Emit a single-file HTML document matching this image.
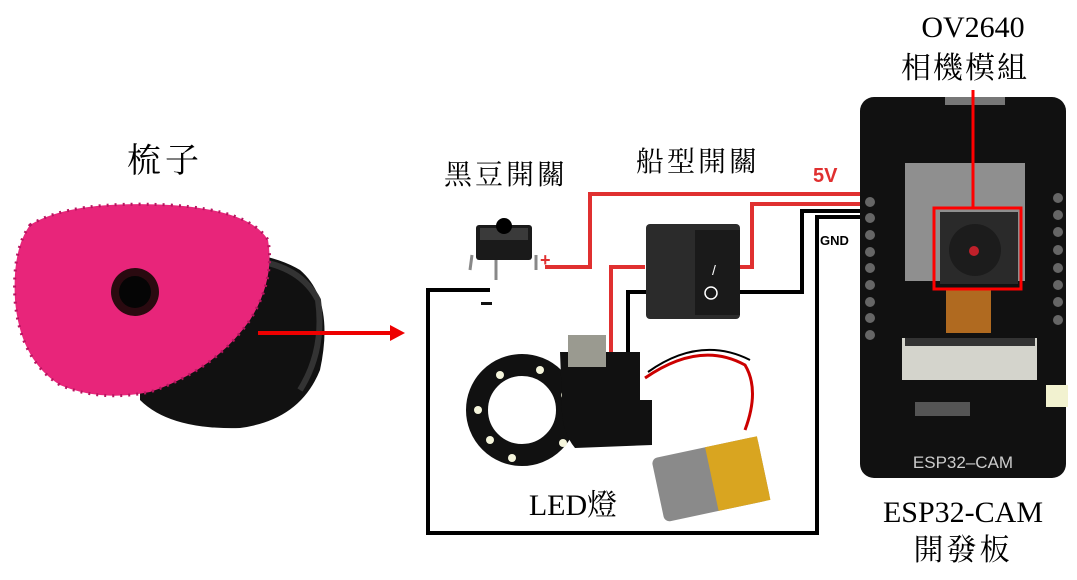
<!DOCTYPE html>
<html><head><meta charset="utf-8"><style>
html,body{margin:0;padding:0;background:#fff}
svg{display:block}
text{font-family:"Liberation Serif","Noto Serif CJK TC","Noto Serif CJK SC",serif;fill:#000}
</style></head><body>
<svg width="1077" height="580" viewBox="0 0 1077 580" xmlns="http://www.w3.org/2000/svg">
<!-- Titles -->
<text x="165" y="172" font-size="34" text-anchor="middle" letter-spacing="4">梳子</text>
<text x="506" y="184" font-size="28" text-anchor="middle" letter-spacing="3">黑豆開關</text>
<text x="698" y="171" font-size="28" text-anchor="middle" letter-spacing="3">船型開關</text>
<text x="973" y="37" font-size="30" text-anchor="middle">OV2640</text>
<text x="965" y="78" font-size="30" text-anchor="middle" letter-spacing="2">相機模組</text>
<text x="963" y="522" font-size="30" text-anchor="middle">ESP32-CAM</text>
<text x="963" y="560" font-size="30" text-anchor="middle" letter-spacing="3">開發板</text>
<text x="573" y="515" font-size="30" text-anchor="middle">LED燈</text>

<!-- Comb -->
<path d="M140 258 Q250 240 300 270 Q335 300 320 370 Q300 420 240 428 Q170 430 140 400 Z" fill="#111"/>
<path d="M250 260 Q300 265 318 300 Q325 350 300 390" fill="none" stroke="#333" stroke-width="6"/>
<path d="M30 225 Q70 200 170 205 Q250 210 268 240 Q275 280 250 320 Q215 370 150 392 Q100 402 60 385 Q20 360 15 300 Q12 250 30 225 Z" fill="#e8257a"/>
<path d="M30 225 Q70 200 170 205 Q250 210 268 240 Q275 280 250 320 Q215 370 150 392 Q100 402 60 385 Q20 360 15 300 Q12 250 30 225 Z" fill="none" stroke="#b81560" stroke-width="3" stroke-dasharray="2 6"/>
<ellipse cx="135" cy="292" rx="24" ry="24" fill="#2a0a10"/>
<ellipse cx="135" cy="292" rx="16" ry="16" fill="#050505"/>
<!-- Arrow -->
<line x1="258" y1="333" x2="395" y2="333" stroke="#e00" stroke-width="4"/>
<polygon points="405,333 390,325 390,341" fill="#e00"/>

<!-- Black wires -->
<polyline points="490,290 428,290 428,533 817,533 817,217 860,217" fill="none" stroke="#000" stroke-width="4"/>
<polyline points="740,292 802,292 802,211 860,211" fill="none" stroke="#000" stroke-width="4"/>
<polyline points="652,292 628,292 628,355" fill="none" stroke="#000" stroke-width="4"/>
<!-- Red wires -->
<polyline points="545,267 590,267 590,194 862,194" fill="none" stroke="#e03030" stroke-width="4"/>
<polyline points="738,267 752,267 752,204 862,204" fill="none" stroke="#e03030" stroke-width="4"/>
<polyline points="645,267 611,267 611,410 640,410" fill="none" stroke="#e03030" stroke-width="4"/>
<text x="813" y="182" font-size="20" font-weight="bold" style="fill:#e03030;font-family:'Liberation Sans',sans-serif">5V</text>
<text x="820" y="245" font-size="13" font-weight="bold" style="font-family:'Liberation Sans',sans-serif">GND</text>
<text x="540" y="266" font-size="18" font-weight="bold" style="fill:#e03030;font-family:'Liberation Sans',sans-serif">+</text>
<rect x="481" y="302" width="11" height="3" fill="#111"/>

<!-- Push button -->
<line x1="472" y1="255" x2="470" y2="270" stroke="#888" stroke-width="3"/>
<line x1="496" y1="258" x2="496" y2="280" stroke="#888" stroke-width="3"/>
<line x1="536" y1="255" x2="536" y2="270" stroke="#888" stroke-width="3"/>
<rect x="476" y="225" width="56" height="35" rx="3" fill="#1a1a1a"/>
<rect x="480" y="228" width="48" height="12" fill="#3a3a3a"/>
<circle cx="504" cy="226" r="8" fill="#000"/>

<!-- Rocker switch -->
<rect x="646" y="224" width="94" height="95" rx="4" fill="#2b2b2b"/>
<rect x="695" y="230" width="45" height="85" fill="#1a1a1a"/>
<text x="712" y="275" font-size="14" style="fill:#fff;font-family:'Liberation Sans',sans-serif">/</text>
<circle cx="711" cy="293" r="6" fill="none" stroke="#fff" stroke-width="1.5"/>

<!-- LED ring & PCB -->
<circle cx="522" cy="410" r="45" fill="none" stroke="#111" stroke-width="22"/>
<g fill="#f5f5dc"><circle cx="500" cy="375" r="4"/><circle cx="540" cy="370" r="4"/><circle cx="478" cy="410" r="4"/><circle cx="490" cy="440" r="4"/><circle cx="512" cy="458" r="4"/><circle cx="563" cy="443" r="4"/><circle cx="565" cy="395" r="4"/></g>
<path d="M560 352 L640 352 L640 400 L652 400 L652 445 L575 448 Q560 430 562 400 Z" fill="#111"/>
<rect x="568" y="335" width="38" height="32" fill="#9a9a90"/>
<path d="M645 378 Q700 340 745 365 Q760 390 745 430" fill="none" stroke="#c00" stroke-width="3"/>
<path d="M648 372 Q700 335 750 360" fill="none" stroke="#000" stroke-width="2"/>
<!-- Battery -->
<g transform="rotate(-12 710 480)">
<rect x="657" y="447" width="108" height="65" rx="6" fill="#8a8a8a"/>
<rect x="712" y="447" width="53" height="65" fill="#d9a520"/>
</g>

<!-- ESP32-CAM board -->
<rect x="860" y="97" width="206" height="381" rx="14" fill="#111"/>
<rect x="945" y="97" width="60" height="8" fill="#777"/>
<rect x="905" y="163" width="120" height="118" fill="#8f8f8f"/>
<rect x="940" y="212" width="78" height="72" fill="#2a2a2a"/>
<circle cx="975" cy="250" r="26" fill="#1c1c1c"/>
<circle cx="974" cy="251" r="5" fill="#c0202a"/>
<rect x="946" y="288" width="45" height="45" fill="#b06a20"/>
<rect x="902" y="338" width="135" height="42" fill="#d4d4cc"/>
<rect x="905" y="338" width="130" height="8" fill="#333"/>
<rect x="1046" y="385" width="22" height="22" fill="#f2f2d0"/>
<g fill="#666">
<circle cx="870" cy="202" r="5"/><circle cx="870" cy="218" r="5"/><circle cx="870" cy="235" r="5"/><circle cx="870" cy="252" r="5"/><circle cx="870" cy="268" r="5"/><circle cx="870" cy="285" r="5"/><circle cx="870" cy="302" r="5"/><circle cx="870" cy="318" r="5"/><circle cx="870" cy="335" r="5"/>
<circle cx="1058" cy="198" r="5"/><circle cx="1058" cy="215" r="5"/><circle cx="1058" cy="232" r="5"/><circle cx="1058" cy="250" r="5"/><circle cx="1058" cy="268" r="5"/><circle cx="1058" cy="285" r="5"/><circle cx="1058" cy="302" r="5"/><circle cx="1058" cy="320" r="5"/>
</g>
<rect x="915" y="402" width="55" height="14" fill="#555"/>
<text x="963" y="468" font-size="17" text-anchor="middle" style="fill:#ccc;font-family:'Liberation Sans',sans-serif">ESP32–CAM</text>
<line x1="973" y1="90" x2="973" y2="208" stroke="#f00" stroke-width="3"/>
<rect x="934" y="208" width="87" height="81" fill="none" stroke="#f00" stroke-width="3"/>
</svg>
</body></html>
